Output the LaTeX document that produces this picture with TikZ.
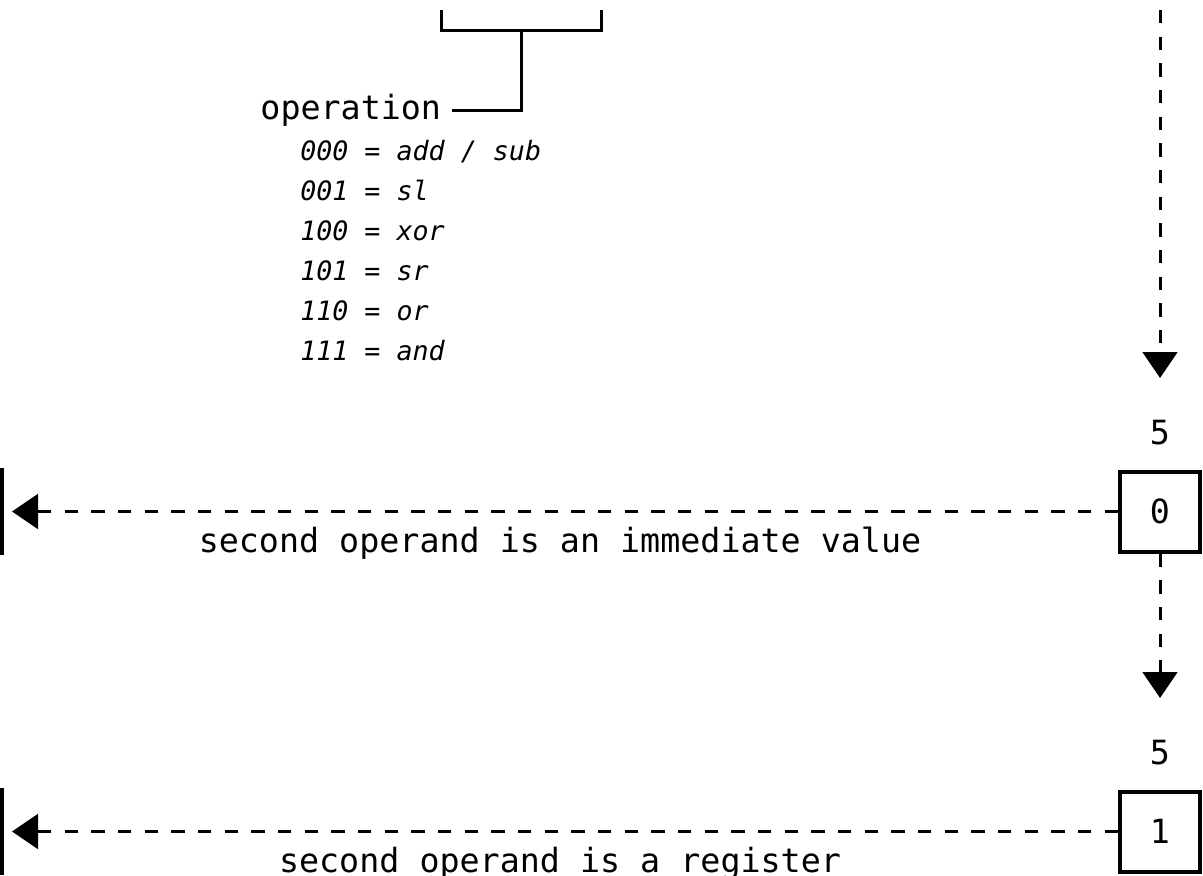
\documentclass[tikz,border=0pt]{standalone}
\usepackage{fontspec}
\setmonofont{DejaVu Sans Mono}
\usetikzlibrary{arrows.meta}

\begin{document}
\begin{tikzpicture}[x=0.75pt,y=-0.75pt,
        font=\ttfamily\fontsize{25}{30}\selectfont,
        wire/.style={line width=2.25pt},
        limit/.style={line width=3pt},
        dasharrow/.style={line width=2.25pt, dash pattern=on 10pt off 10pt,
            -{Triangle[length=19.5pt,width=26pt]}},
        bitbox/.style={draw, line width=3pt, minimum size=60pt, inner sep=0pt},
        codetext/.style={font=\ttfamily\itshape\fontsize{20}{30}\selectfont,
            anchor=base west, inner sep=0pt}]
    \useasboundingbox (0,0) rectangle (1203,875);
    % operation field
    \coordinate (brkL) at (441,10);
    \coordinate (brkR) at (601,10);
    \coordinate (brkM) at (521,30);
    \draw[wire] (brkL) |- (brkM) -| (brkR);
    \node (oper) [anchor=east, inner xsep=8pt, inner ysep=0pt] at (452,110) {operation};
    \draw[wire] (brkM) |- (oper);
    \foreach \txt [count=\k] in {{000 = add / sub}, {001 = sl}, {100 = xor},
            {101 = sr}, {110 = or}, {111 = and}}
        \node (code\k) [codetext] at (300,120+40*\k) {\txt};
    % bit 0
    \coordinate (top) at (1160,10);
    \coordinate (tip0) at (1160,378);
    \draw[dasharrow] (top) -- (tip0);
    \node (len0) at (1160,433) {5};
    \node (bit0) [bitbox] at (1160,511.5) {0};
    \coordinate (lim0) at (12,511.5);
    \draw[dasharrow] (bit0) -- (lim0);
    \draw[limit] (2,468) -- (2,555);
    \node (lbl0) [anchor=base] at (560,552) {second operand is an immediate value};
    % bit 1
    \coordinate (tip1) at (1160,698);
    \draw[dasharrow] (bit0) -- (tip1);
    \node (len1) at (1160,753) {5};
    \node (bit1) [bitbox] at (1160,831.5) {1};
    \coordinate (lim1) at (12,831.5);
    \draw[dasharrow] (bit1) -- (lim1);
    \draw[limit] (2,788) -- (2,875);
    \node (lbl1) [anchor=base] at (560,872) {second operand is a register};
\end{tikzpicture}
\end{document}
